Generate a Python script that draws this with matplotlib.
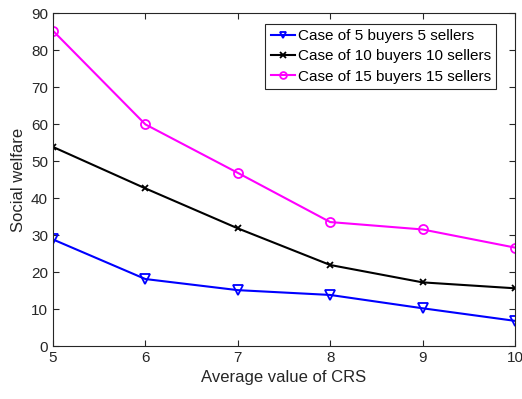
import matplotlib
matplotlib.use('Agg')
import matplotlib.pyplot as plt

plt.rcParams['font.family'] = ['Liberation Sans', 'DejaVu Sans']

crs = [5, 6, 7, 8, 9, 10]
welfare_5 = [28.8, 18.1, 15.1, 13.8, 10.2, 6.8]
welfare_10 = [53.8, 42.6, 31.8, 21.9, 17.2, 15.6]
welfare_15 = [85.2, 59.9, 46.8, 33.5, 31.5, 26.6]
labels = ['Case of 5 buyers 5 sellers', 'Case of 10 buyers 10 sellers',
          'Case of 15 buyers 15 sellers']

fig = plt.figure(figsize=(5.22, 3.99), dpi=100)
ax = fig.add_axes([0.1015, 0.1328, 0.885, 0.8346])

ax.plot(crs, welfare_5, color='blue', marker='v', mfc='none', ms=6.5, mew=1.3, lw=1.5, label=labels[0])
ax.plot(crs, welfare_10, color='black', marker='x', ms=5, mew=1.3, lw=1.5, label=labels[1])
ax.plot(crs, welfare_15, color='magenta', marker='o', mfc='none', ms=6.5, mew=1.3, lw=1.5, label=labels[2])

ax.set_xlim(5, 10)
ax.set_ylim(0, 90)
ax.set_xticks(crs)
ax.set_yticks(range(0, 91, 10))
ax.tick_params(direction='in', top=True, right=True, labelsize=11, colors='#262626', length=4)
for s in ax.spines.values():
    s.set_color('#262626')
    s.set_linewidth(0.8)
ax.set_xlabel('Average value of CRS', fontsize=12, color='#262626')
ax.set_ylabel('Social welfare', fontsize=12, color='#262626')

leg = ax.legend(loc='upper right', bbox_to_anchor=(0.96, 0.967), fontsize=11, fancybox=False,
                edgecolor='#262626', framealpha=1, handlelength=1.6, handletextpad=0.2,
                labelspacing=0.4, borderpad=0.35, borderaxespad=0, markerscale=0.75)
leg.get_frame().set_linewidth(0.8)

fig.savefig('out.png', dpi=100)
